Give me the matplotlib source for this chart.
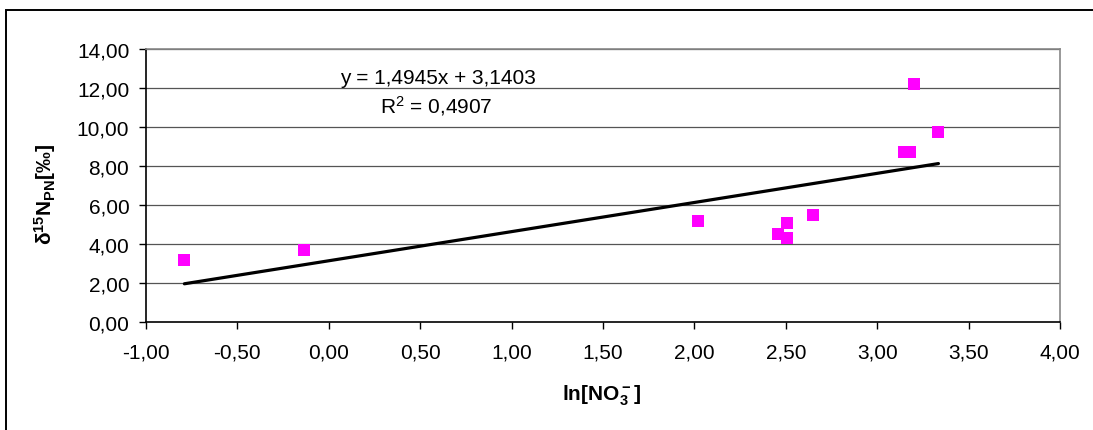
import matplotlib
matplotlib.use("Agg")
import matplotlib.pyplot as plt
import numpy as np
from matplotlib.patches import Rectangle

plt.rcParams['font.family'] = ['Liberation Sans', 'DejaVu Sans']
plt.rcParams['mathtext.default'] = 'regular'

# data
ln_no3 = [-0.79, -0.135, 2.02, 2.46, 2.505, 2.505, 2.65, 3.145, 3.18, 3.20, 3.335]
d15n = [3.20, 3.70, 5.20, 4.50, 5.10, 4.30, 5.50, 8.70, 8.70, 12.20, 9.75]
slope = 1.4945
intercept = 3.1403
r2 = 0.4907
xticks = [-1.0, -0.5, 0.0, 0.5, 1.0, 1.5, 2.0, 2.5, 3.0, 3.5, 4.0]
yticks = [0, 2, 4, 6, 8, 10, 12, 14]

W, H = 1093, 431
FS = 15
fig = plt.figure(figsize=(W / 100, H / 100), dpi=100)
fig.patch.set_facecolor('white')

# outer chart border
fig.patches.append(Rectangle((6 / W, -0.1), 1.2, 1 - 11 / H + 0.1,
                             transform=fig.transFigure, fill=False,
                             edgecolor='black', linewidth=1.4))

left, right, top, bottom = 146, 1060, 50, 323
ax = fig.add_axes([left / W, 1 - bottom / H, (right - left) / W, (bottom - top) / H])
ax.set_xlim(-1, 4)
ax.set_ylim(0, 14)

fmt = lambda v: f"{v:.2f}".replace('.', ',')
ax.set_xticks(xticks)
ax.set_xticklabels([fmt(v) for v in xticks], fontsize=FS)
ax.set_yticks(yticks)
ax.set_yticklabels([fmt(v) for v in yticks], fontsize=FS)
ax.tick_params(axis='both', direction='out', length=5, width=1, color='black')
ax.tick_params(axis='x', pad=9.5)
ax.tick_params(axis='y', pad=7)

for y in yticks[1:]:
    ax.axhline(y, color='#555555', lw=0.9, zorder=1)

ax.spines['left'].set_color('black')
ax.spines['bottom'].set_color('black')
ax.spines['top'].set_color('#888888')
ax.spines['right'].set_color('#888888')
for s in ax.spines.values():
    s.set_linewidth(1.2)

ax.scatter(ln_no3, d15n, marker='s', s=8.3 ** 2, color='#FF00FF', zorder=3, linewidths=0)

xl = np.array([min(ln_no3), max(ln_no3)])
ax.plot(xl, slope * xl + intercept, color='black', lw=2.3, zorder=4, solid_capstyle='round')

eq = f"y = {slope:.4f}x + {intercept:.4f}".replace('.', ',')
fig.text(438 / W, 1 - 78 / H, eq, ha='center', va='center', fontsize=FS)
fig.text(436 / W, 1 - 106 / H, f"R$^2$ = {r2:.4f}".replace('.', ','), ha='center', va='center', fontsize=FS)

fig.text(45 / W, 1 - 194 / H, r"$\delta^{15}N_{PN}$[‰]", rotation=90, ha='center', va='center',
         fontsize=FS, fontweight='bold')
fig.text(602 / W, 1 - 396 / H, r"ln[NO$_3^-$]", ha='center', va='center', fontsize=FS, fontweight='bold')

fig.savefig('out.png', dpi=100)
